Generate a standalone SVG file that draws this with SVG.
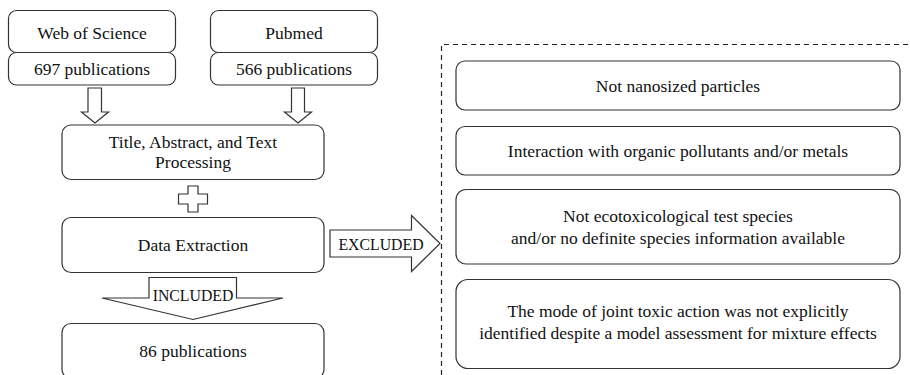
<svg xmlns="http://www.w3.org/2000/svg" width="910" height="375" viewBox="0 0 910 375">
<style>
.box{fill:#fff;stroke:#333;stroke-width:1.2}
.arr{fill:#fff;stroke:#333;stroke-width:1.2;stroke-linejoin:miter}
.t{font-family:'Liberation Serif','Times New Roman',serif;font-size:17.5px;fill:#111;text-anchor:middle}
.sm{font-size:15.8px}
.dash{fill:none;stroke:#222;stroke-width:1.2;stroke-dasharray:5,4}
</style>
<rect width="910" height="375" fill="#fff"/>
<g id="connectors">
<polygon class="arr" points="88,88 101.5,88 101.5,112 108.5,112 95,123 81.5,112 88,112"/>
<polygon class="arr" points="291.5,88 304.5,88 304.5,112 311.5,112 298,123 284.5,112 291.5,112"/>
<polygon class="arr" points="188,186 198,186 198,194 207.5,194 207.5,204 198,204 198,212 188,212 188,204 178.5,204 178.5,194 188,194"/>
<polygon class="arr" points="330,230 411.5,230 411.5,215.5 440,243.5 411.5,271.5 411.5,257 330,257"/>
<text class="t sm" x="381" y="250">EXCLUDED</text>
<polygon class="arr" points="149,277.5 236.5,277.5 236.5,298 283,298 193,319.5 102,298 149,298"/>
<text class="t sm" x="193" y="300.5">INCLUDED</text>
</g>
<g id="excluded-region">
<path class="dash" d="M441.5,375 V44.5 H910"/>
</g>
<g id="wos">
<rect class="box" x="8.5" y="10.5" width="167" height="42" rx="8"/>
<text class="t" x="92" y="38.5">Web of Science</text>
</g>
<g id="wos-count">
<rect class="box" x="8.5" y="52.5" width="167" height="32.5" rx="8"/>
<text class="t" x="92" y="75">697 publications</text>
</g>
<g id="pubmed">
<rect class="box" x="210.5" y="10.5" width="167" height="42" rx="8"/>
<text class="t" x="294" y="38.5">Pubmed</text>
</g>
<g id="pubmed-count">
<rect class="box" x="210.5" y="52.5" width="167" height="32.5" rx="8"/>
<text class="t" x="294" y="75">566 publications</text>
</g>
<g id="screening">
<rect class="box" x="62" y="125" width="262" height="54.5" rx="9"/>
<text class="t" x="193" y="148">Title, Abstract, and Text</text>
<text class="t" x="193" y="168">Processing</text>
</g>
<g id="extraction">
<rect class="box" x="62" y="217.5" width="262" height="55" rx="9"/>
<text class="t" x="193" y="250.5">Data Extraction</text>
</g>
<g id="result">
<rect class="box" x="62" y="323.5" width="262" height="55" rx="9"/>
<text class="t" x="193" y="357">86 publications</text>
</g>
<g id="ex1">
<rect class="box" x="456" y="61" width="444" height="49" rx="9"/>
<text class="t" x="678" y="92">Not nanosized particles</text>
</g>
<g id="ex2">
<rect class="box" x="456" y="126.5" width="444" height="48.5" rx="9"/>
<text class="t" x="678" y="157">Interaction with organic pollutants and/or metals</text>
</g>
<g id="ex3">
<rect class="box" x="456" y="189.5" width="444" height="74.5" rx="10"/>
<text class="t" x="678" y="222">Not ecotoxicological test species</text>
<text class="t" x="678" y="243.5">and/or no definite species information available</text>
</g>
<g id="ex4">
<rect class="box" x="456" y="279.5" width="444" height="89" rx="12"/>
<text class="t" x="678" y="317">The mode of joint toxic action was not explicitly</text>
<text class="t" x="678" y="338.5">identified despite a model assessment for mixture effects</text>
</g>
</svg>
